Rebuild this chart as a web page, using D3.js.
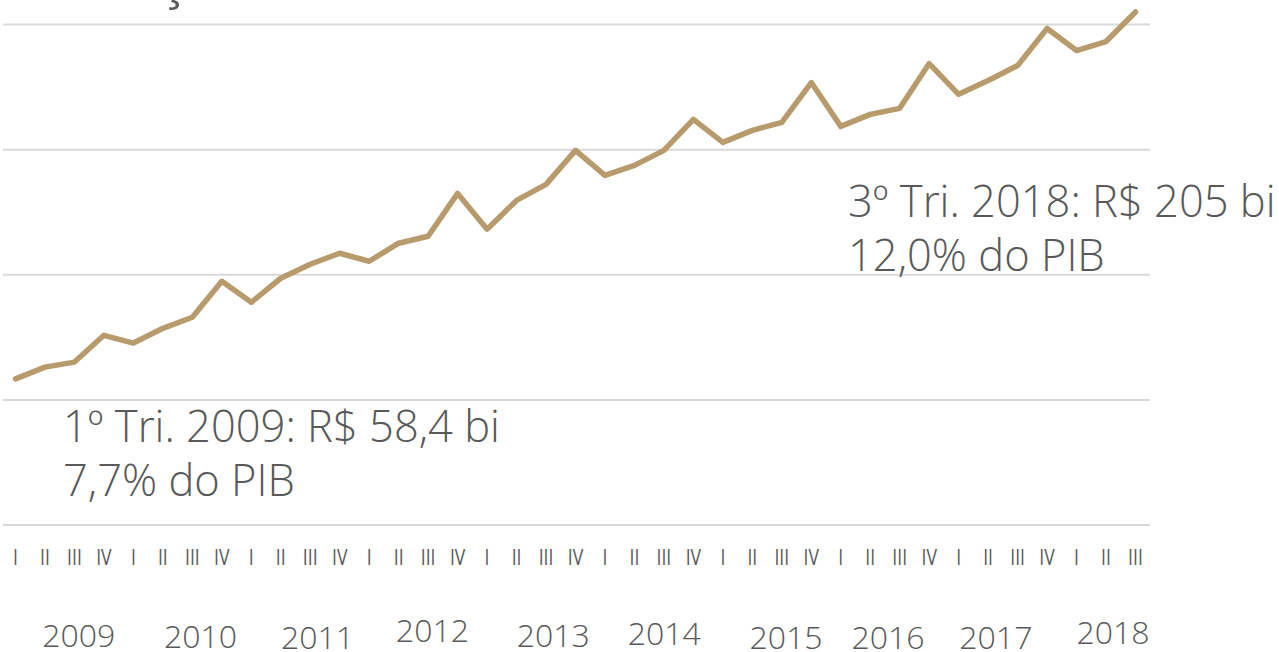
<!DOCTYPE html>
<html>
<head>
<meta charset="utf-8">
<script src="https://cdn.jsdelivr.net/npm/d3@7"></script>
<style>
  body { margin: 0; background: #fff; }
  text { font-family: "Open Sans", "Lato", sans-serif; font-weight: 300; fill: #595959; }
</style>
</head>
<body>
<div id="chart"></div>
<script>
var svgWidth = 1279;
var svgHeight = 652;

// quarters 2009 Q1 .. 2018 Q3
var years = ["2009", "2010", "2011", "2012", "2013", "2014", "2015", "2016", "2017", "2018"];
var quarterNames = ["I", "II", "III", "IV"];

// R$ bi
var values = [
  58.4, 63.1, 65.1, 75.8,
  72.7, 78.6, 83.0, 97.4,
  89.0, 98.6, 104.2, 108.6,
  105.4, 112.6, 115.4, 132.5,
  118.2, 129.7, 136.1, 149.7,
  139.7, 143.7, 149.7, 162.1,
  152.9, 157.7, 160.9, 176.8,
  159.3, 164.1, 166.5, 184.4,
  172.1, 177.6, 183.6, 198.4,
  189.6, 193.2, 205.0
];

var gridValues = [0, 50, 100, 150, 200];

var notes = [
  { idx: 0, lines: ["1º Tri. 2009: R$ 58,4 bi", "7,7% do PIB"] },
  { idx: 38, lines: ["3º Tri. 2018: R$ 205 bi", "12,0% do PIB"] }
];

// build the quarter list
var data = values.map(function(v, i) {
  return {
    i: i,
    year: years[Math.floor(i / 4)],
    q: quarterNames[i % 4],
    value: v
  };
});

var svg = d3.select("#chart")
  .append("svg")
  .attr("width", svgWidth)
  .attr("height", svgHeight);

var x = d3.scaleLinear()
  .domain([0, values.length - 1])
  .range([15.5, 1135.5]);

var y = d3.scaleLinear()
  .domain([0, 200])
  .range([525, 24.5]);

// cut-off title, only the cedilla shows at the top
svg.append("text")
  .attr("x", 160)
  .attr("y", -2)
  .style("font-size", "50px")
  .style("font-weight", 400)
  .text("ç");

// gridlines
svg.append("g")
  .selectAll("line")
  .data(gridValues)
  .enter()
  .append("line")
  .attr("x1", 3)
  .attr("x2", 1150)
  .attr("y1", d => y(d))
  .attr("y2", d => y(d))
  .attr("stroke", "#d9d9d9")
  .attr("stroke-width", 2);

// the series
var line = d3.line()
  .x(d => x(d.i))
  .y(d => y(d.value));

svg.append("path")
  .datum(data)
  .attr("d", line)
  .attr("fill", "none")
  .attr("stroke", "#b89b6c")
  .attr("stroke-width", 5.5)
  .attr("stroke-linejoin", "round")
  .attr("stroke-linecap", "round");

// quarter labels
svg.append("g")
  .selectAll("text")
  .data(data)
  .enter()
  .append("text")
  .attr("x", d => x(d.i))
  .attr("y", 565)
  .attr("text-anchor", "middle")
  .style("font-size", "22px")
  .style("font-weight", 400)
  .attr("transform", d => `translate(${x(d.i)},0) scale(0.8,1) translate(${-x(d.i)},0)`)
  .text(d => d.q);

// year labels, nudged like the original text boxes
var yearNudge = [19, 23, 22, 19, 22, 15, 19, 3, -7, 7];
var yearDrop = [647, 648, 649, 642, 647, 645, 649, 649, 649, 644];

svg.append("g")
  .selectAll("text")
  .data(years)
  .enter()
  .append("text")
  .attr("x", function(d, k) {
    var qs = data.filter(e => e.year === d);
    return d3.mean(qs, e => x(e.i)) + yearNudge[k];
  })
  .attr("y", (d, k) => yearDrop[k])
  .attr("text-anchor", "middle")
  .style("font-size", "32px")
  .text(d => d);

// annotations
var notePos = [
  { x: 63, y: 442 },
  { x: 848, y: 217 }
];

notes.forEach(function(n, k) {
  var t = svg.append("text")
    .attr("x", notePos[k].x)
    .attr("y", notePos[k].y)
    .style("font-size", "43.5px");
  n.lines.forEach(function(s, j) {
    t.append("tspan")
      .attr("x", notePos[k].x)
      .attr("dy", j === 0 ? 0 : 54)
      .text(s);
  });
});
</script>
</body>
</html>
